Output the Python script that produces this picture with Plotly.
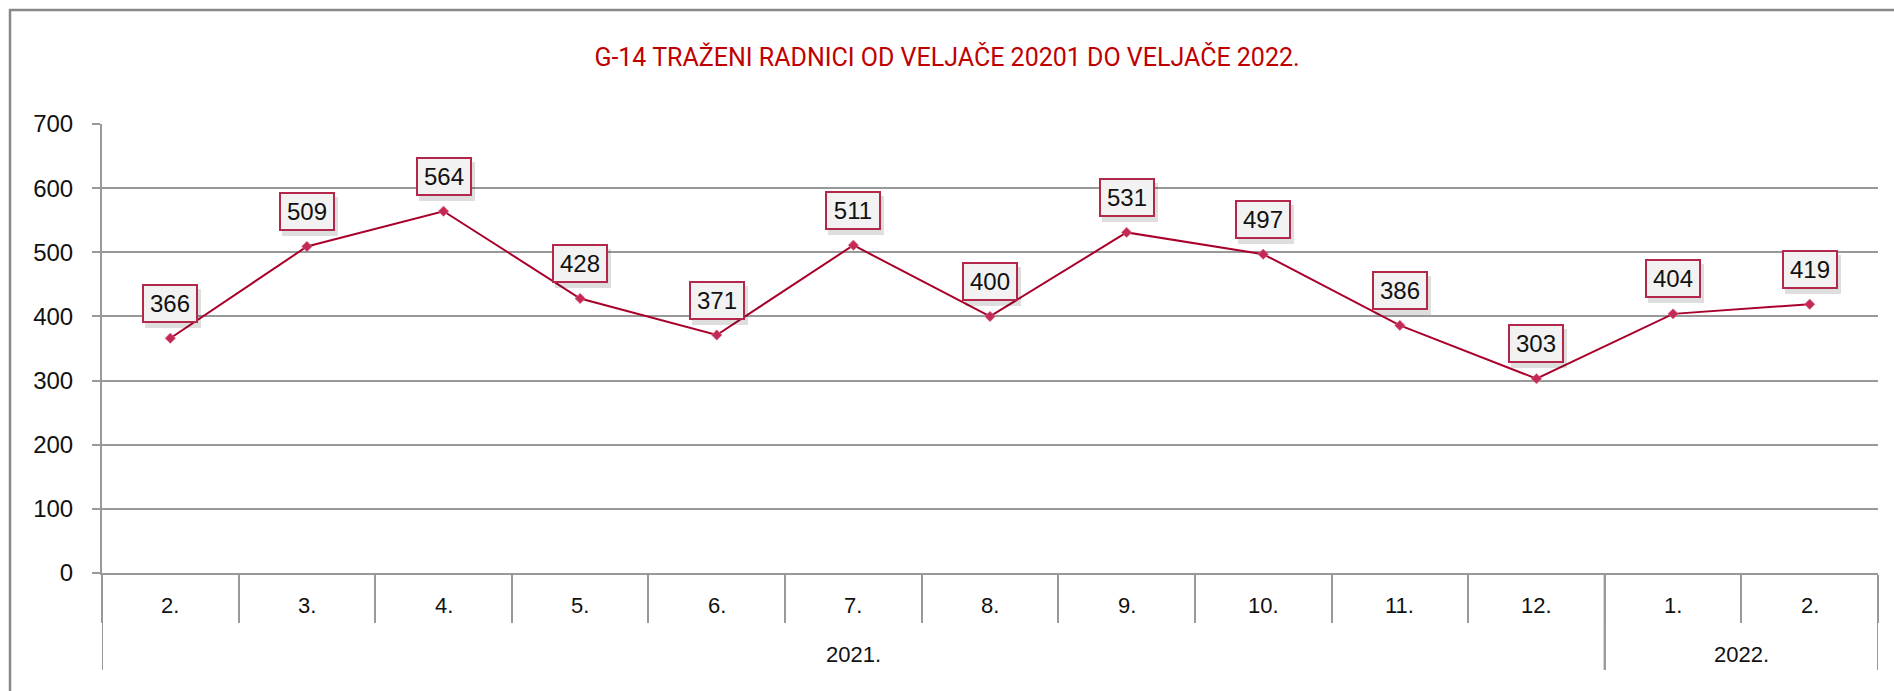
import plotly.graph_objects as go

months = ["2.", "3.", "4.", "5.", "6.", "7.", "8.", "9.", "10.", "11.", "12.", "1.", "2."]
years = ["2021."] * 11 + ["2022."] * 2
values = [366, 509, 564, 428, 371, 511, 400, 531, 497, 386, 303, 404, 419]
y_ticks = [0, 100, 200, 300, 400, 500, 600, 700]
title_text = "G-14 TRAŽENI RADNICI OD VELJAČE 20201 DO VELJAČE 2022."

W, H = 1894, 691
L, R, T, B = 102, 16, 124, 118
plot_h = H - T - B
plot_w = W - L - R

LINE_RED = "#a9002b"
BOX_RED = "#b3284a"
GRID = "#999999"
FONT = "Liberation Sans"

n = len(values)
xs = list(range(n))

fig = go.Figure()
fig.add_trace(go.Scatter(
    x=xs, y=values, mode="lines+markers",
    line=dict(color=LINE_RED, width=2),
    marker=dict(symbol="diamond", size=8, color="#c42a55",
                line=dict(color="rgba(220,120,150,0.6)", width=1)),
    hoverinfo="x+y", showlegend=False,
))

annotations = []
# data labels: shadow + box
for i, v in enumerate(values):
    annotations.append(dict(
        x=i, y=v, xref="x", yref="y", text=" ", showarrow=False,
        xshift=3, yshift=30, width=54, height=37,
        bgcolor="rgba(0,0,0,0.13)", borderwidth=0, borderpad=1,
    ))
    annotations.append(dict(
        x=i, y=v, xref="x", yref="y", text=str(v), showarrow=False,
        yshift=35, width=50, height=33,
        font=dict(family=FONT, size=24, color="#111111"),
        bgcolor="#f2f2f2", bordercolor=BOX_RED, borderwidth=2, borderpad=1,
    ))

# month labels
for i, m in enumerate(months):
    annotations.append(dict(
        x=i, y=(H - B - 605) / plot_h, xref="x", yref="paper", text=m,
        showarrow=False, yanchor="middle",
        font=dict(family=FONT, size=22, color="#111111"),
    ))

# year groups
groups = []
for i, yv in enumerate(years):
    if not groups or groups[-1][0] != yv:
        groups.append([yv, i, i])
    else:
        groups[-1][2] = i

shapes = []
y_group_bottom = (H - B - 670) / plot_h
for name, a, b in groups:
    annotations.append(dict(
        x=(a + b) / 2, y=(H - B - 654) / plot_h, xref="x", yref="paper",
        text=name, showarrow=False, yanchor="middle",
        font=dict(family=FONT, size=22, color="#111111"),
    ))
    for xb in (a - 0.5, b + 0.5):
        shapes.append(dict(type="line", xref="x", yref="paper",
                           x0=xb, x1=xb, y0=0, y1=y_group_bottom,
                           line=dict(color=GRID, width=2)))

# outer frame (cut at right / bottom like the reference)
shapes.append(dict(type="rect", xref="paper", yref="paper",
                   x0=(10 - L) / plot_w, x1=(W + 20 - L) / plot_w,
                   y0=(H - B - (H + 20)) / plot_h, y1=(H - B - 10) / plot_h,
                   line=dict(color="#888888", width=2.5), layer="below"))

fig.update_layout(
    width=W, height=H,
    margin=dict(l=L, r=R, t=T, b=B),
    paper_bgcolor="white", plot_bgcolor="white",
    title=dict(text=title_text, x=0.5, xref="container", xanchor="center",
               y=1 - 57 / H, yref="container", yanchor="middle",
               font=dict(family="Roboto", size=25, color="#c00000")),
    xaxis=dict(range=[-0.5, n - 0.5], tickmode="array",
               tickvals=[i - 0.5 for i in range(n + 1)], showticklabels=False,
               ticks="outside", ticklen=48, tickwidth=2, tickcolor=GRID,
               showgrid=False, zeroline=False, showline=True,
               linecolor=GRID, linewidth=2, fixedrange=True),
    yaxis=dict(range=[0, 700], tickmode="array", tickvals=y_ticks,
               ticks="outside", ticklen=8, tickwidth=2, tickcolor=GRID,
               showgrid=True, gridcolor=GRID, gridwidth=1.5,
               zeroline=False, showline=True, linecolor=GRID, linewidth=2,
               ticklabelstandoff=14,
               tickfont=dict(family=FONT, size=24, color="#111111"),
               fixedrange=True),
    annotations=annotations,
    shapes=shapes,
)

fig.write_html("out.html", config={"displayModeBar": False},
               post_script="document.body.style.margin='0';document.body.style.overflow='hidden';")
